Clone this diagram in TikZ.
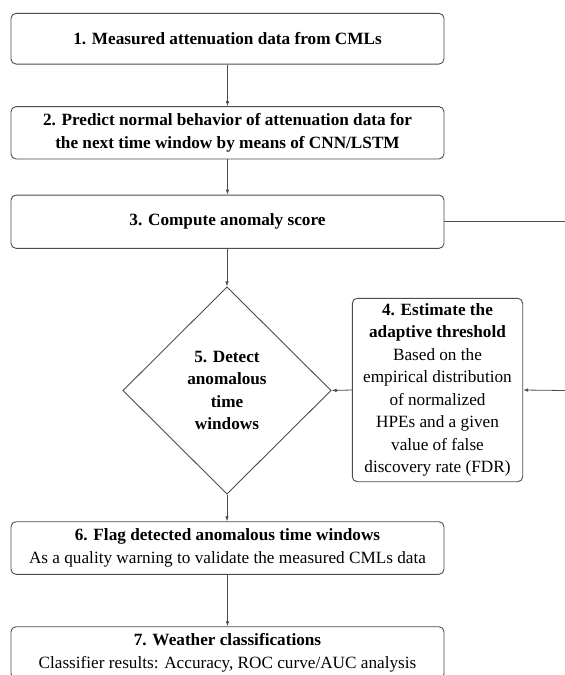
\documentclass[tikz,border=0pt]{standalone}
\usepackage{fontspec}
\setmainfont{Liberation Serif}
\usetikzlibrary{shapes.geometric,arrows.meta}
\begin{document}
\begin{tikzpicture}[x=1pt,y=-1pt,
  every node/.style={font=\fontsize{17.2}{22.5}\selectfont, align=center, inner sep=0pt},
  stepbox/.style={draw=black!70, line width=0.9pt, rounded corners=5pt, minimum width=433pt},
  decbox/.style={draw=black!70, line width=0.9pt, shape=diamond, minimum width=208.3pt, minimum height=207.3pt},
  conn/.style={draw=black!70, line width=0.8pt},
  arr/.style={conn, -{Latex[length=5pt,width=3.6pt]}}
]
\useasboundingbox (0,0) rectangle (565,675);
\fill[white] (0,0) rectangle (565,675);

\node[stepbox, minimum height=50.7pt] (b1) at (227.5,38.7) {\textbf{1. Measured attenuation data from CMLs}};
\node[stepbox, minimum height=52.3pt] (b2) at (227.5,132.8) {\textbf{2. Predict normal behavior of attenuation data for}\\\textbf{the next time window by means of CNN/LSTM}};
\node[stepbox, minimum height=53.3pt] (b3) at (227.5,221.7) {\textbf{3. Compute anomaly score}};
\node[decbox] (d5) at (227,390.5) {\textbf{5. Detect}\\\textbf{anomalous}\\\textbf{time}\\\textbf{windows}};
\node[draw=black!70, line width=0.9pt, rounded corners=5pt, minimum width=170.4pt, minimum height=183.4pt] (b4) at (437.5,390) {\textbf{4. Estimate the}\\\textbf{adaptive threshold}\\Based on the\\empirical distribution\\of normalized\\HPEs and a given\\value of false\\discovery rate (FDR)};
\node[stepbox, minimum height=52.6pt] (b6) at (227.5,548) {\textbf{6. Flag detected anomalous time windows}\\As a quality warning to validate the measured CMLs data};
\node[stepbox, minimum height=52pt] (b7) at (227.5,652.7) {\textbf{7. Weather classifications}\\Classifier results: Accuracy, ROC curve/AUC analysis};

\coordinate (r1) at (565,221.7);
\coordinate (r2) at (565,390.5);

\draw[arr] (b1) -- (b2);
\draw[arr] (b2) -- (b3);
\draw[arr] (b3.south -| d5.north) -- (d5.north);
\draw[arr] (d5.south) -- (d5.south |- b6.north);
\draw[arr] (b6) -- (b7);
\draw[conn] (b3.east) -- (r1);
\draw[arr] (r2) -- (b4.east);
\draw[arr] (b4.west) -- (d5.east);
\end{tikzpicture}
\end{document}
